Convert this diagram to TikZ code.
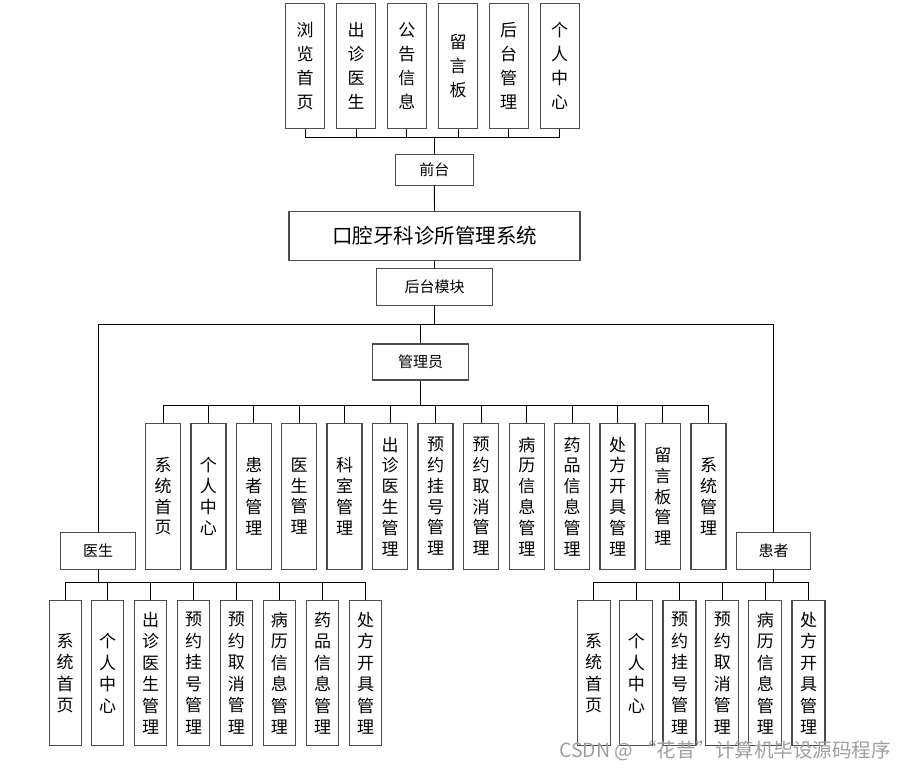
\documentclass[tikz,border=0pt]{standalone}
\usepackage{fontspec}
\newfontfamily\cjk{Noto Sans CJK SC}
\usetikzlibrary{calc}
\definecolor{BoxClr}{rgb}{0.3,0.3,0.3}
\definecolor{MarkClr}{rgb}{0.62,0.62,0.62}

\begin{document}
\begin{tikzpicture}[x=1pt,y=-1pt,
  box/.style={draw=BoxClr,line width=1.3pt,fill=white,inner sep=0pt,align=center},
  tallbox/.style={box,minimum width=39,minimum height=125,font=\cjk\fontsize{17}{24}\selectfont},
  colbox/.style={box,minimum width=35,minimum height=146,font=\cjk\fontsize{17}{20.8}\selectfont},
  subbox/.style={box,minimum width=32,minimum height=145,font=\cjk\fontsize{17}{21.5}\selectfont},
  headbox/.style={box,font=\cjk\fontsize{15}{18}\selectfont},
  link/.style={draw=black,line width=0.9pt}]
\useasboundingbox (0,0) rectangle (899,770);

% front end
\node[tallbox] (f1) at (305,65.7) {浏\\览\\首\\页};
\node[tallbox] (f2) at (356.2,65.7) {出\\诊\\医\\生};
\node[tallbox] (f3) at (406.8,65.7) {公\\告\\信\\息};
\node[tallbox] (f4) at (458,65.7) {留\\言\\板};
\node[tallbox] (f5) at (508.7,65.7) {后\\台\\管\\理};
\node[tallbox] (f6) at (559.7,65.7) {个\\人\\中\\心};

\node[headbox,minimum width=78,minimum height=31] (qt) at (434.3,169.7) {前台};
\node[box,minimum width=291,minimum height=49,font=\cjk\fontsize{20.5}{24}\selectfont] (sys) at (434.5,236) {口腔牙科诊所管理系统};
\node[headbox,minimum width=116,minimum height=37] (ht) at (434.5,286.8) {后台模块};
\node[headbox,minimum width=96,minimum height=36] (gly) at (420.7,362) {管理员};
\node[headbox,minimum width=75,minimum height=37] (ys) at (98,550.8) {医生};
\node[headbox,minimum width=74,minimum height=37] (hz) at (773.5,550.8) {患者};

% admin
\node[colbox] (a1) at (163,496.3) {系\\统\\首\\页};
\node[colbox] (a2) at (208.4,496.3) {个\\人\\中\\心};
\node[colbox] (a3) at (253.8,496.3) {患\\者\\管\\理};
\node[colbox] (a4) at (299.2,496.3) {医\\生\\管\\理};
\node[colbox] (a5) at (344.6,496.3) {科\\室\\管\\理};
\node[colbox] (a6) at (390,496.3) {出\\诊\\医\\生\\管\\理};
\node[colbox] (a7) at (435.6,496.3) {预\\约\\挂\\号\\管\\理};
\node[colbox] (a8) at (481.2,496.3) {预\\约\\取\\消\\管\\理};
\node[colbox] (a9) at (526.8,496.3) {病\\历\\信\\息\\管\\理};
\node[colbox] (a10) at (572.2,496.3) {药\\品\\信\\息\\管\\理};
\node[colbox] (a11) at (617.5,496.3) {处\\方\\开\\具\\管\\理};
\node[colbox] (a12) at (662.8,496.3) {留\\言\\板\\管\\理};
\node[colbox] (a13) at (708.5,496.3) {系\\统\\管\\理};

% doctor
\node[subbox] (d1) at (65.2,673.3) {系\\统\\首\\页};
\node[subbox] (d2) at (107.7,673.3) {个\\人\\中\\心};
\node[subbox] (d3) at (150.7,673.3) {出\\诊\\医\\生\\管\\理};
\node[subbox] (d4) at (193.5,673.3) {预\\约\\挂\\号\\管\\理};
\node[subbox] (d5) at (236.3,673.3) {预\\约\\取\\消\\管\\理};
\node[subbox] (d6) at (279.3,673.3) {病\\历\\信\\息\\管\\理};
\node[subbox] (d7) at (322.5,673.3) {药\\品\\信\\息\\管\\理};
\node[subbox] (d8) at (365.5,673.3) {处\\方\\开\\具\\管\\理};

% patient
\node[subbox,minimum width=33] (p1) at (593.7,673.3) {系\\统\\首\\页};
\node[subbox,minimum width=33] (p2) at (636.3,673.3) {个\\人\\中\\心};
\node[subbox,minimum width=33] (p3) at (679.5,673.3) {预\\约\\挂\\号\\管\\理};
\node[subbox,minimum width=33] (p4) at (722.3,673.3) {预\\约\\取\\消\\管\\理};
\node[subbox,minimum width=33] (p5) at (765.3,673.3) {病\\历\\信\\息\\管\\理};
\node[subbox,minimum width=33] (p6) at (808.5,673.3) {处\\方\\开\\具\\管\\理};

% connectors
\foreach \n in {f1,f2,f3,f4,f5,f6}
  \draw[link] (\n.south) -- ++(0,9) -| (qt.north);
\draw[link] (qt.south) -- (sys.north);
\draw[link] (sys.south) -- (ht.north);
\draw[link] (ht.south) -- ++(0,18) -| (gly.north);
\draw[link] (ht.south) -- ++(0,18) -| (ys.north);
\draw[link] (ht.south) -- ++(0,18) -| (hz.north);
\foreach \n in {a1,a2,a3,a4,a5,a6,a7,a8,a9,a10,a11,a12,a13}
  \draw[link] (\n.north) -- ++(0,-17.6) -| (gly.south);
\foreach \n in {d1,d2,d3,d4,d5,d6,d7,d8}
  \draw[link] (\n.north) -- ++(0,-18) -| (ys.south);
\foreach \n in {p1,p2,p3,p4,p5,p6}
  \draw[link] (\n.north) -- ++(0,-18) -| (hz.south);

\node[anchor=west,text=MarkClr,inner sep=0pt,font=\cjk\fontsize{19.5}{22}\selectfont] (mark) at (559,751) {CSDN @ “花昔”计算机毕设源码程序};

\end{tikzpicture}
\end{document}
